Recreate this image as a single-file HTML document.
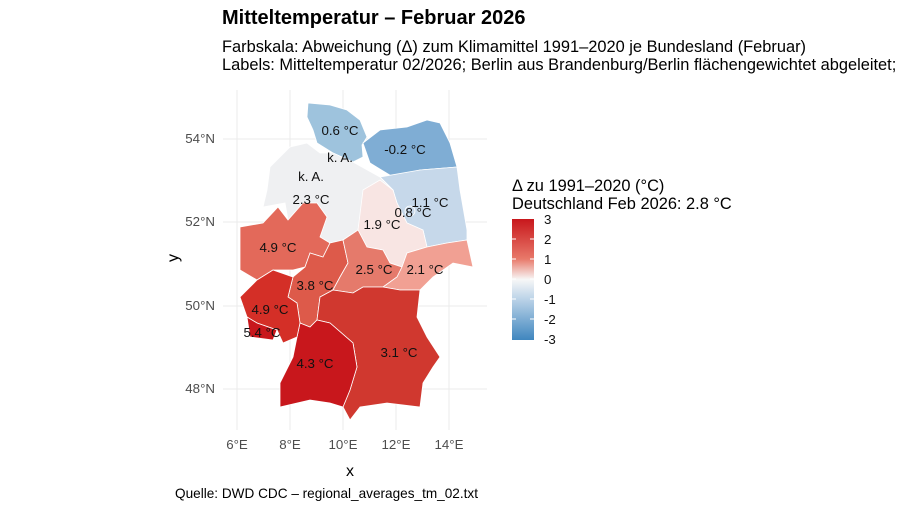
<!DOCTYPE html>
<html><head><meta charset="utf-8"><style>
body{margin:0;background:#fff;}
svg{display:block;font-family:"Liberation Sans",sans-serif;}
</style></head><body>
<svg width="906" height="510" viewBox="0 0 906 510" xmlns="http://www.w3.org/2000/svg">
<defs><linearGradient id="g" x1="0" y1="0" x2="0" y2="1">
<stop offset="0" stop-color="#c8171c"/><stop offset="0.33" stop-color="#e8796a"/>
<stop offset="0.5" stop-color="#f7f7f7"/><stop offset="0.67" stop-color="#b8d1e7"/>
<stop offset="1" stop-color="#3f86bf"/></linearGradient></defs>
<text x="222" y="24" font-size="20" font-weight="bold">Mitteltemperatur – Februar 2026</text>
<text x="222" y="52" font-size="16.4">Farbskala: Abweichung (Δ) zum Klimamittel 1991–2020 je Bundesland (Februar)</text>
<text x="222" y="70" font-size="16.4">Labels: Mitteltemperatur 02/2026; Berlin aus Brandenburg/Berlin flächengewichtet abgeleitet;</text>
<g stroke="#ebebeb" stroke-width="1">
<line x1="237" y1="90" x2="237" y2="430"/><line x1="290" y1="90" x2="290" y2="430"/>
<line x1="343" y1="90" x2="343" y2="430"/><line x1="396" y1="90" x2="396" y2="430"/>
<line x1="449" y1="90" x2="449" y2="430"/>
<line x1="223" y1="139" x2="487" y2="139"/><line x1="223" y1="222" x2="487" y2="222"/>
<line x1="223" y1="306" x2="487" y2="306"/><line x1="223" y1="389" x2="487" y2="389"/>
</g>
<g stroke="#fff" stroke-width="0.8">
<polygon fill="#9ec3dd" points="308,103 330,105 347,110 360,120 367,137 362,145 363,157 353,162 333,153 317,143 313,130 307,117"/>
<polygon fill="#7fadd4" points="363,143 380,130 407,127 427,120 440,123 450,143 457,167 420,170 393,177 370,163"/>
<polygon fill="#c6d8ea" points="380,177 420,170 457,167 460,190 467,230 467,240 447,243 427,247 423,230 407,223 397,203 393,190"/>
<polygon fill="#eff0f2" points="270,167 290,147 307,143 320,153 333,153 353,162 380,177 393,190 370,187 363,200 358,230 343,240 330,243 320,237 327,217 317,203 303,203 288,220 285,203 263,207 267,190"/>
<polygon fill="#f8e5e3" points="363,190 380,180 393,190 397,203 407,223 423,230 427,247 407,253 402,267 390,263 383,250 367,247 358,230"/>
<polygon fill="#e3695a" points="240,227 263,223 278,207 288,220 303,203 317,203 327,217 320,237 330,243 323,257 310,253 305,267 293,270 273,270 257,280 240,270"/>
<polygon fill="#dd5a4a" points="310,253 323,257 330,243 343,240 348,263 340,277 333,290 320,297 317,320 310,327 300,323 297,303 288,297 293,277 305,267"/>
<polygon fill="#e57a6b" points="343,240 358,230 367,247 383,250 390,263 402,267 397,277 383,287 363,287 353,293 333,290 340,277 348,263"/>
<polygon fill="#f1a093" points="402,267 407,253 427,247 447,243 467,240 473,267 453,263 433,277 420,290 400,290 383,287 397,277"/>
<polygon fill="#d0382f" points="320,297 333,290 353,293 363,287 383,287 400,290 420,290 417,317 427,337 440,357 433,367 423,383 420,407 387,403 360,407 350,420 343,407 350,390 357,367 353,343 330,323 317,320"/>
<polygon fill="#c8171c" points="300,323 310,327 317,320 330,323 353,343 357,367 350,390 343,407 330,403 310,400 280,407 280,383 293,357 297,337"/>
<polygon fill="#d42f27" points="240,297 257,280 273,270 293,277 288,297 297,303 300,323 297,337 283,343 277,330 257,323 247,317"/>
<polygon fill="#c8171c" points="247,317 257,323 277,330 273,340 250,337"/>
<circle cx="410" cy="211" r="5" fill="#c9d9ea"/>
</g>
<g font-size="13.3" text-anchor="middle" fill="#111">
<text x="340" y="135">0.6 °C</text><text x="405" y="154">-0.2 °C</text>
<text x="340" y="162">k. A.</text><text x="311" y="181">k. A.</text>
<text x="311" y="204">2.3 °C</text><text x="430" y="207">1.1 °C</text>
<text x="413" y="217">0.8 °C</text><text x="382" y="229">1.9 °C</text>
<text x="278" y="252">4.9 °C</text><text x="374" y="274">2.5 °C</text>
<text x="425" y="274">2.1 °C</text><text x="315" y="290">3.8 °C</text>
<text x="270" y="314">4.9 °C</text><text x="262" y="337">5.4 °C</text>
<text x="315" y="368">4.3 °C</text><text x="399" y="357">3.1 °C</text>
</g>
<g font-size="13.3" fill="#4d4d4d">
<text x="215" y="143" text-anchor="end">54°N</text><text x="215" y="226" text-anchor="end">52°N</text>
<text x="215" y="310" text-anchor="end">50°N</text><text x="215" y="393" text-anchor="end">48°N</text>
<g text-anchor="middle"><text x="237" y="449">6°E</text><text x="290" y="449">8°E</text>
<text x="343" y="449">10°E</text><text x="396" y="449">12°E</text><text x="449" y="449">14°E</text></g>
</g>
<text x="350" y="476" font-size="16" text-anchor="middle">x</text>
<text x="178" y="258" font-size="16" text-anchor="middle" transform="rotate(-90 178 258)">y</text>
<text x="512" y="191" font-size="16.4">Δ zu 1991–2020 (°C)</text>
<text x="512" y="209" font-size="16.4">Deutschland Feb 2026: 2.8 °C</text>
<rect x="512" y="219" width="22" height="121" fill="url(#g)"/>
<g stroke="#fff" stroke-width="1">
<line x1="512" y1="239" x2="516" y2="239"/><line x1="530" y1="239" x2="534" y2="239"/>
<line x1="512" y1="259" x2="516" y2="259"/><line x1="530" y1="259" x2="534" y2="259"/>
<line x1="512" y1="279" x2="516" y2="279"/><line x1="530" y1="279" x2="534" y2="279"/>
<line x1="512" y1="299" x2="516" y2="299"/><line x1="530" y1="299" x2="534" y2="299"/>
<line x1="512" y1="319" x2="516" y2="319"/><line x1="530" y1="319" x2="534" y2="319"/>
</g>
<g font-size="13.3" fill="#111">
<text x="544" y="224">3</text><text x="544" y="244">2</text><text x="544" y="264">1</text>
<text x="544" y="284">0</text><text x="544" y="304">-1</text><text x="544" y="324">-2</text><text x="544" y="344">-3</text>
</g>
<text x="175" y="498" font-size="13.6">Quelle: DWD CDC – regional_averages_tm_02.txt</text>
</svg>
</body></html>
